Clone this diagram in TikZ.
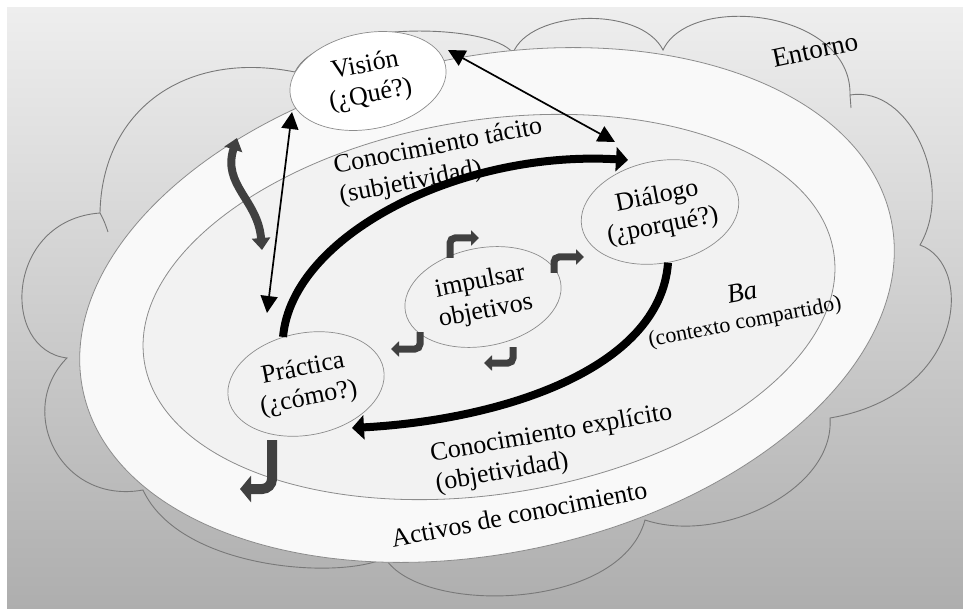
\documentclass[tikz,border=0pt]{standalone}
\usepackage{fontspec}
\setmainfont{Liberation Serif}
\usetikzlibrary{arrows.meta,shapes.geometric}

\definecolor{bgtop}{RGB}{238,238,238}
\definecolor{bgbot}{RGB}{174,174,174}
\definecolor{cloudgray}{RGB}{120,120,120}
\definecolor{ringgray}{RGB}{140,140,140}
\definecolor{outerfill}{RGB}{249,249,249}
\definecolor{innerfill}{RGB}{242,242,242}
\definecolor{darkarrow}{RGB}{64,64,64}

\newcommand\bodyfont{\fontsize{26}{30}\selectfont}

\tikzset{
  cloudline/.style={draw=cloudgray, line width=0.9pt},
  ring/.style={draw=ringgray, line width=0.8pt},
  bubble/.style={ellipse, draw=ringgray, line width=0.7pt, inner sep=0pt,
    minimum width=158pt, minimum height=98pt, rotate=11, align=center, font=\bodyfont},
  txt/.style={font=\bodyfont, rotate=11, inner sep=0pt},
  twoway/.style={black, line width=1.7pt,
    {Triangle[length=17pt,width=17pt]}-{Triangle[length=17pt,width=17pt]}},
  bigflow/.style={black, line width=8pt, line cap=butt, -{Triangle[length=12pt,width=24pt]}},
  turn/.style={draw=darkarrow, line width=7pt, rounded corners=5pt,
    -{Triangle[length=8pt,width=15pt]}},
}

\begin{document}
\begin{tikzpicture}[x=1pt,y=-1pt]
\useasboundingbox (0,0) rectangle (963,609);

% background
\shade[top color=bgtop, bottom color=bgbot] (7,8) rectangle (963,609);

% surrounding environment (cloud)
\draw[cloudline]
  (100,213) .. controls (102,110) and (185,50) .. (295,72)
  .. controls (320,20) and (490,22) .. (513,53)
  .. controls (530,10) and (640,5) .. (663,50)
  .. controls (690,-8) and (852,10) .. (850,95)
  .. controls (910,85) and (955,185) .. (920,245)
  .. controls (975,265) and (965,395) .. (830,418)
  .. controls (835,490) and (720,545) .. (645,520)
  .. controls (620,612) and (420,615) .. (385,558)
  .. controls (340,580) and (180,570) .. (143,490)
  .. controls (60,505) and (15,410) .. (67,358)
  .. controls (0,350) and (5,220) .. cycle;
\draw[cloudline] (100,213) .. controls (104,220) and (106,226) .. (108,232);
\draw[cloudline] (850,95) -- (851,108);

% knowledge assets and shared context
\draw[ring, fill=outerfill, rotate around={12:(487,305)}]
  (487,305) ellipse [x radius=413, y radius=248];
\draw[ring, fill=innerfill, rotate around={9:(489,307)}]
  (489,307) ellipse [x radius=349, y radius=187];

% labels
\node[txt, font=\fontsize{27}{31}\selectfont, rotate=1] (entorno) at (815,50) {Entorno};
\node[txt, align=left] (tacito) at (441,162) {Conocimiento tácito\\(subjetividad)};
\node[txt, align=left, rotate=-1] (explicito) at (554,449) {Conocimiento explícito\\(objetividad)};
\node[txt, font=\fontsize{27}{31}\selectfont\itshape] (ba) at (742,292) {Ba};
\node[txt, font=\fontsize{22}{26}\selectfont] (contexto) at (745,323) {(contexto compartido)};
\node[txt] (activos) at (519,514) {Activos de conocimiento};

% the four bubbles
\node[bubble, fill=white, minimum height=96pt] (vision) at (368,81) {Visión\\(¿Qué?)};
\node[bubble, minimum height=102pt] (dialogo) at (660,212) {Diálogo\\(¿porqué?)};
\node[bubble] (impulsar) at (483,297) {impulsar\\objetivos};
\node[bubble, minimum height=102pt] (practica) at (306,384) {Práctica\\(¿cómo?)};

% arrow end points
\coordinate (visR) at (448,50);
\coordinate (dialT) at (615,142);
\coordinate (visB) at (292,112);
\coordinate (pracT) at (267,313);
\coordinate (tacEnd) at (628,160);
\coordinate (expEnd) at (352,428);

% straight two-way links
\draw[twoway] (visR) -- (dialT);
\draw[twoway] (visB) -- (pracT);

% knowledge spiral
\draw[bigflow] (practica.105) .. controls (292,235) and (460,150) .. (tacEnd);
\draw[bigflow] (dialogo.-92) .. controls (660,370) and (500,420) .. (expEnd);

% small turning arrows around the goal bubble
\coordinate (t1a) at (450,258); \coordinate (t1b) at (450,238); \coordinate (t1c) at (479,238);
\coordinate (t2a) at (554,273); \coordinate (t2b) at (554,257); \coordinate (t2c) at (584,257);
\coordinate (t3a) at (420,332); \coordinate (t3b) at (420,349); \coordinate (t3c) at (391,349);
\coordinate (t4a) at (513,347); \coordinate (t4b) at (513,363); \coordinate (t4c) at (484,363);
\draw[turn] (t1a) -- (t1b) -- (t1c);
\draw[turn] (t2a) -- (t2b) -- (t2c);
\draw[turn] (t3a) -- (t3b) -- (t3c);
\draw[turn] (t4a) -- (t4b) -- (t4c);

% wavy arrow between environment and vision
\coordinate (waveTop) at (237,138);
\coordinate (waveBot) at (262,250);
\draw[darkarrow, line width=8pt,
  {Triangle[length=12pt,width=18pt]}-{Triangle[length=12pt,width=18pt]}]
  (waveTop) .. controls (222,185) and (258,200) .. (waveBot);

% arrow leaving practice towards the assets
\coordinate (outA) at (272,440);
\coordinate (outB) at (272,489);
\coordinate (outC) at (240,489);
\draw[darkarrow, line width=10pt, rounded corners=10pt,
  -{Triangle[length=11pt,width=26pt]}] (outA) -- (outB) -- (outC);

\end{tikzpicture}
\end{document}
